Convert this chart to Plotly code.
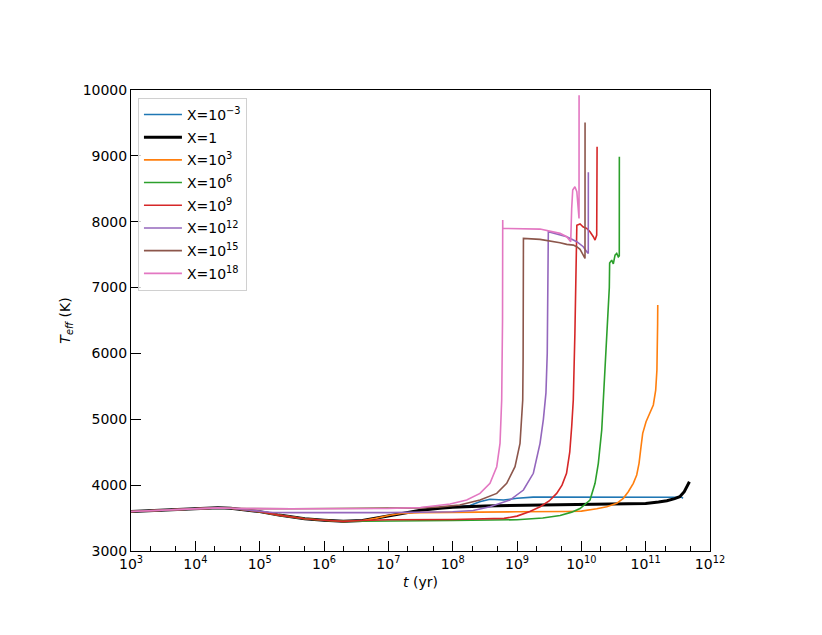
import numpy as np
import plotly.graph_objects as go

# ---- data (log10 of t in yr, Teff in K) ----
common_logt = [3.0, 3.5, 4.0, 4.35, 4.55]
common_T = [3600, 3618, 3640, 3655, 3648]

descend_logt = [4.8, 5.0, 5.3, 5.7, 6.0, 6.3]
descend_T = [3625, 3598, 3545, 3490, 3468, 3450]

blue_logt = [6.6, 7.0, 7.5, 8.0, 8.27, 8.42, 8.58, 8.79, 9.0, 9.25, 10.0, 11.0, 11.56, 11.58]
blue_T = [3462, 3530, 3620, 3665, 3690, 3749, 3785, 3774, 3800, 3818, 3818, 3818, 3816, 3798]

black_logt = [6.6, 6.8, 7.0, 7.2, 7.5, 7.8, 8.0, 8.5, 9.0, 10.0, 10.5, 11.0, 11.2, 11.33,
              11.45, 11.53, 11.6, 11.64, 11.68]
black_T = [3462, 3495, 3530, 3565, 3620, 3650, 3665, 3685, 3692, 3700, 3708, 3722, 3745, 3764,
           3795, 3824, 3900, 3990, 4052]

orange_logt = [6.6, 6.8, 7.0, 7.2, 7.5, 8.0, 9.0, 9.78, 10.0, 10.239, 10.395, 10.55, 10.653,
               10.73, 10.808, 10.861, 10.897, 10.928, 10.954, 11.006, 11.068, 11.119, 11.156,
               11.175, 11.186, 11.188]
orange_T = [3462, 3495, 3540, 3570, 3583, 3590, 3595, 3600, 3605, 3642, 3672, 3724, 3800,
            3900, 4028, 4154, 4331, 4584, 4787, 4963, 5090, 5217, 5444,
            5748, 6458, 6735]

green_logt = [6.6, 7.0, 8.0, 9.0, 9.4, 9.67, 9.85, 9.98, 10.08, 10.135, 10.213, 10.264, 10.317,
              10.353, 10.384, 10.41, 10.435, 10.44, 10.472, 10.497, 10.524, 10.55, 10.575,
              10.59, 10.591]
green_T = [3452, 3458, 3462, 3475, 3500, 3540, 3590, 3645, 3725, 3774, 4028, 4331, 4837,
           5444, 5950, 6458, 7000, 7372, 7417, 7360, 7493, 7519, 7467,
           7480, 8985]

red_logt = [6.6, 7.0, 8.0, 8.5, 8.8, 9.0, 9.2, 9.36, 9.5, 9.617, 9.7, 9.77, 9.82, 9.85, 9.875,
            9.90, 9.93, 9.98, 10.03, 10.084, 10.135, 10.186, 10.213, 10.239, 10.245]
red_T = [3462, 3475, 3478, 3482, 3495, 3530, 3600, 3672, 3760, 3875, 4000, 4180, 4500, 4887, 5292,
         6305, 7945, 7965, 7920, 7899, 7848, 7772, 7722, 7797, 9137]

purple_logt = [4.8, 5.0, 5.2, 5.5, 6.0, 7.0, 8.0, 8.32, 8.58, 8.89, 9.10, 9.254, 9.358, 9.41,
               9.45, 9.47, 9.487, 9.6, 9.773, 9.93, 10.03, 10.084, 10.108, 10.109]
purple_T = [3625, 3598, 3585, 3582, 3582, 3583, 3595, 3615, 3672, 3774, 3926, 4180, 4635, 5000,
            5400, 6000, 7848, 7815, 7772, 7696, 7620, 7544, 7519, 8750]

brown_logt = [4.8, 5.5, 6.5, 7.0, 7.5, 7.8, 8.11, 8.425, 8.685, 8.84, 8.969, 9.047, 9.075, 9.089,
              9.095, 9.10, 9.358, 9.513, 9.669, 9.773, 9.876, 9.928, 9.98, 10.03, 10.057, 10.058]
brown_T = [3643, 3642, 3643, 3645, 3655, 3670, 3698, 3774, 3875, 4028, 4280, 4635, 5000, 5292,
           5900, 7747, 7732, 7711, 7681, 7656, 7645, 7620, 7580, 7493, 7443, 9508]

pink_logt = [4.8, 5.5, 6.5, 7.0, 7.5, 7.8, 7.96, 8.218, 8.425, 8.58, 8.685, 8.736, 8.762, 8.775,
             8.778, 8.779, 9.358, 9.487, 9.669, 9.773, 9.824, 9.835, 9.85, 9.866, 9.90, 9.93,
             9.964, 9.965]
pink_T = [3643, 3642, 3643, 3645, 3660, 3698, 3714, 3774, 3875, 4028, 4280, 4635, 5292, 6500,
          8025, 7899, 7888, 7863, 7823, 7772, 7722, 7696, 8200, 8480, 8531, 8455,
          8050, 9922]

names = ["X=10<sup>\u22123</sup>", "X=1", "X=10<sup>3</sup>", "X=10<sup>6</sup>",
         "X=10<sup>9</sup>", "X=10<sup>12</sup>", "X=10<sup>15</sup>", "X=10<sup>18</sup>"]
colors = ["#1f77b4", "#000000", "#ff7f0e", "#2ca02c", "#d62728", "#9467bd", "#8c564b", "#e377c2"]
widths = [1.6, 3.0, 1.6, 1.6, 1.6, 1.6, 1.6, 1.6]

xtick_vals_log = [3, 4, 5, 6, 7, 8, 9, 10, 11, 12]
xtick_text = ["10<sup>%d</sup>" % e for e in xtick_vals_log]

# ---- build series ----
low = (common_logt + descend_logt, common_T + descend_T)
series = [
    (low[0] + blue_logt, low[1] + blue_T),
    (low[0] + black_logt, low[1] + black_T),
    (low[0] + orange_logt, low[1] + orange_T),
    (low[0] + green_logt, low[1] + green_T),
    (low[0] + red_logt, low[1] + red_T),
    (common_logt + purple_logt, common_T + purple_T),
    (common_logt + brown_logt, common_T + brown_T),
    (common_logt + pink_logt, common_T + pink_T),
]

fig = go.Figure()
for i, ((lt, T), n, c, w) in enumerate(zip(series, names, colors, widths)):
    fig.add_trace(go.Scatter(x=np.power(10.0, lt), y=T, mode="lines", name=n,
                             legendgroup="g%d" % i,
                             line=dict(color=c, width=w)))

font = dict(family="DejaVu Sans", size=14, color="black")
fig.update_layout(
    width=822, height=635,
    margin=dict(l=123, r=120, t=82, b=92),
    paper_bgcolor="white", plot_bgcolor="white",
    font=font,
    showlegend=True,
    legend=dict(x=0.012, y=0.983, xanchor="left", yanchor="top",
                bgcolor="rgba(255,255,255,0.8)", bordercolor="#d0d0d0", borderwidth=1,
                font=dict(family="DejaVu Sans", size=14), itemwidth=38,
                tracegroupgap=1.5),
)
fig.update_xaxes(
    type="log", range=[3, 12],
    tickvals=[10.0 ** e for e in xtick_vals_log], ticktext=xtick_text,
    ticks="inside", ticklen=10, tickwidth=1.3, tickcolor="black",
    minor=dict(ticks="inside", ticklen=5, tickwidth=1, tickcolor="black", showgrid=False),
    showline=True, linecolor="black", linewidth=1, mirror=True,
    showgrid=False, zeroline=False,
    title=dict(text="<i>t</i> (yr)", font=font, standoff=6),
)
fig.update_yaxes(
    range=[3000, 10000], dtick=1000, tickformat="d",
    ticks="inside", ticklen=10, tickwidth=1.3, tickcolor="black",
    showline=True, linecolor="black", linewidth=1, mirror=True,
    showgrid=False, zeroline=False,
    title=dict(text="<i>T<sub>eff</sub></i> (K)", font=font, standoff=8),
)

fig.write_html("out.html")
